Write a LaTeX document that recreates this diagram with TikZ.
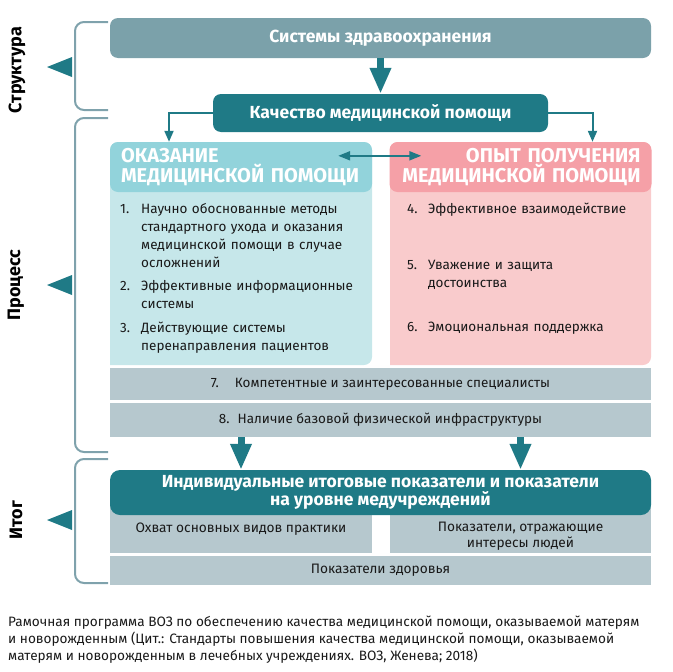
\documentclass[tikz,border=0pt]{standalone}
\usepackage{fontspec}
\setmainfont{Fira Sans}
\usetikzlibrary{arrows.meta}
\definecolor{sysgray}{HTML}{7BA1AA}
\definecolor{qteal}{HTML}{1F7A86}
\definecolor{carehead}{HTML}{92D3DB}
\definecolor{carebody}{HTML}{C6E7EA}
\definecolor{exphead}{HTML}{F5A0A7}
\definecolor{expbody}{HTML}{F9CBCC}
\definecolor{barcol}{HTML}{B6C8CE}
\definecolor{bracecol}{HTML}{7FA2AC}
\newcommand\inum[1]{\noindent\llap{\makebox[21pt][l]{#1}}}
\tikzset{topbox/.style={rounded corners=8pt,inner sep=0pt,text=white,font=\bfseries\fontsize{17.5}{18}\selectfont,align=center},
 panelhead/.style={rounded corners=8pt,inner sep=0pt,minimum width=262pt,minimum height=50pt,text width=240pt,text=white,font=\bfseries\fontsize{20}{17}\selectfont},
 item/.style={anchor=base west,inner sep=0pt,text width=#1,align=left,font=\fontsize{13.5}{18}\selectfont,text=black!90},
 bar/.style={fill=barcol,inner sep=0pt,font=\fontsize{13.7}{16}\selectfont,align=center,text=black!90},
 bigarrow/.style={qteal,line width=7pt,-{Triangle[width=20pt,length=26pt]}},
 thinarrow/.style={qteal,line width=2pt,-{Triangle[width=9pt,length=11pt]}},
 brace/.style={draw=bracecol,line width=2pt,rounded corners=9pt},
 lvl/.style={rotate=90,inner sep=0pt,font=\bfseries\fontsize{18}{18}\selectfont}}

\begin{document}
\begin{tikzpicture}[x=1pt,y=-1pt]
\useasboundingbox (0,0) rectangle (672,672);
% Структура
\node[topbox,fill=sysgray,minimum width=541pt,minimum height=40pt] (sys) at (380.5,38) {Системы здравоохранения};
\node[topbox,fill=qteal,minimum width=335pt,minimum height=38pt] (qoc) at (380.5,113) {Качество медицинской помощи};
\draw[bigarrow] (sys) -- (qoc);
% Процесс
\fill[carebody] (110,365) [rounded corners=8pt] |- (241,142) -| (372,365) [sharp corners] -- cycle;
\fill[expbody] (390,365) [rounded corners=8pt] |- (520.5,142) -| (651,365) [sharp corners] -- cycle;
\node[panelhead,fill=carehead,align=left] (care) at (241,167) {ОКАЗАНИЕ\\МЕДИЦИНСКОЙ ПОМОЩИ};
\node[panelhead,fill=exphead,align=right] (exp) at (520.5,167) {ОПЫТ ПОЛУЧЕНИЯ\\МЕДИЦИНСКОЙ ПОМОЩИ};
\draw[thinarrow] (qoc.west) -| ([xshift=-72pt]care.north);
\draw[thinarrow] (qoc.east) -| ([xshift=72pt]exp.north);
\draw[thinarrow,{Triangle[width=9pt,length=12pt]}-{Triangle[width=9pt,length=12pt]}] ([shift={(-34,14)}]care.north east) -- ([shift={(32,14)}]exp.north west);

\node[item=225pt] (i1) at (141,213.5) {\inum{1.}Научно обоснованные методы\\стандартного ухода и оказания\\медицинской помощи в случае\\осложнений};
\node[item=225pt] (i2) at (141,290.5) {\inum{2.}Эффективные информационные\\системы};
\node[item=225pt] (i3) at (141,332.5) {\inum{3.}Действующие системы\\перенаправления пациентов};
\node[item=215pt] (i4) at (428,213.5) {\inum{4.}Эффективное взаимодействие};
\node[item=215pt] (i5) at (428,269.5) {\inum{5.}Уважение и защита\\достоинства};
\node[item=215pt] (i6) at (428,331.5) {\inum{6.}Эмоциональная поддержка};

\node[bar,font=\fontsize{13.5}{16}\selectfont,minimum width=541pt,minimum height=32pt] (b7) at (380.5,384) {7.\hspace{16pt}Компетентные и заинтересованные специалисты};
\node[bar,font=\fontsize{13.5}{16}\selectfont,minimum width=541pt,minimum height=34pt] (b8) at (380.5,420) {8.\hspace{8pt}Наличие базовой физической инфраструктуры};
% Итог
\node[bar,minimum width=262pt,minimum height=48pt] (cov) at (241,529) {Охват основных видов практики};
\node[bar,minimum width=261pt,minimum height=48pt,label={[align=center,inner sep=0pt,font=\fontsize{13.7}{16}\selectfont,text=black!90,yshift=-7pt]center:Показатели, отражающие\\интересы людей}] (ppl) at (520.5,529) {};
\node[bar,minimum width=541pt,minimum height=29pt] (hlth) at (380.5,570.5) {Показатели здоровья};
\node[topbox,fill=qteal,minimum width=541pt,minimum height=45pt,rounded corners=10pt] (out) at (380.5,492.5) {Индивидуальные итоговые показатели и показатели\\на уровне медучреждений};
\draw[bigarrow] (care |- b8.south) -- (care |- out.north);
\draw[bigarrow] (exp |- b8.south) -- (exp |- out.north);

% скобки слева
\draw[brace] (108,22) -| (75,110) -- (108,110);
\draw[brace] (108,118) -| (75,452) -- (108,452);
\draw[brace] (108,459) -| (75,583) -- (108,583);
\fill[qteal] (72,57) -- (47,67) -- (72,77) -- cycle;
\fill[qteal] (72,275) -- (47,285) -- (72,295) -- cycle;
\fill[qteal] (72,510) -- (47,520) -- (72,530) -- cycle;
\node[lvl] (lstr) at (17,70) {Структура};
\node[lvl] (lproc) at (16,285) {Процесс};
\node[lvl] (lout) at (16,520) {Итог};

\node[anchor=north west,inner sep=0pt,align=left,font=\fontsize{13.6}{17}\selectfont,text=black!90] (src) at (8,616) {Рамочная программа ВОЗ по обеспечению качества медицинской помощи, оказываемой матерям\\и новорожденным (Цит.: Стандарты повышения качества медицинской помощи, оказываемой\\матерям и новорожденным в лечебных учреждениях. ВОЗ, Женева; 2018)};
\end{tikzpicture}
\end{document}
